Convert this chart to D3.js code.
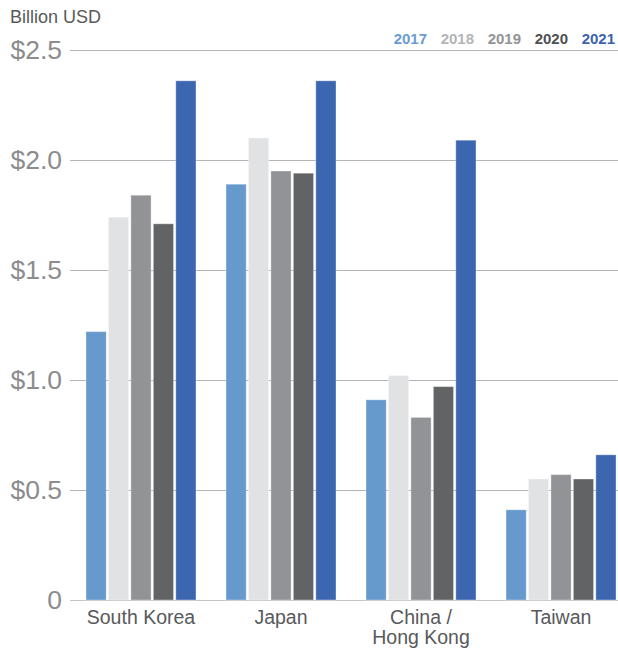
<!DOCTYPE html>
<html>
<head>
<meta charset="utf-8">
<script src="https://cdn.jsdelivr.net/npm/d3@7"></script>
<style>
	body { margin: 0; background: #fff; }
	text { font-family: "Liberation Sans", Arial, sans-serif; }
</style>
</head>
<body>
<svg id="chart" width="618" height="649"></svg>
<script>
// Data
const regions = ["South Korea", "Japan", "China / Hong Kong", "Taiwan"];
const years = ["2017", "2018", "2019", "2020", "2021"];
const v2017 = [1.22, 1.89, 0.91, 0.41];
const v2018 = [1.74, 2.10, 1.02, 0.55];
const v2019 = [1.84, 1.95, 0.83, 0.57];
const v2020 = [1.71, 1.94, 0.97, 0.55];
const v2021 = [2.36, 2.36, 2.09, 0.66];
const yTicks = [0, 0.5, 1.0, 1.5, 2.0, 2.5];

const series = [v2017, v2018, v2019, v2020, v2021];
const barColors = ["#6699cc", "#e1e2e4", "#929396", "#626365", "#3d66b0"];
const legendColors = ["#6a9bd2", "#b4b5b7", "#929396", "#4f5052", "#3d62b0"];

const svg = d3.select("#chart");
const margin = {top: 50, bottom: 49, left: 70};
const height = +svg.attr("height");

// y scale: 0 at 600, 2.5 at 50
const y = d3.scaleLinear().domain([0, 2.5]).range([height - margin.bottom, margin.top]);

// group scale
const x0 = d3.scaleBand().domain(regions)
	.range([71, 631])
	.paddingInner(0.2143)
	.paddingOuter(0.107);

const x1 = d3.scaleBand().domain(years)
	.range([0, x0.bandwidth()])
	.paddingInner(0.1);

// gridlines
svg.append("g")
	.selectAll("line")
	.data(yTicks)
	.enter()
	.append("line")
	.attr("x1", margin.left)
	.attr("x2", 618)
	.attr("y1", d => y(d) + 0.5)
	.attr("y2", d => y(d) + 0.5)
	.attr("stroke", d => d === 0 ? "#c4c4c6" : "#b4b4b6")
	.attr("stroke-width", 1.2);

// tick labels
svg.append("g")
	.selectAll("text")
	.data(yTicks)
	.enter()
	.append("text")
	.attr("x", 62)
	.attr("y", d => y(d) + 9)
	.attr("text-anchor", "end")
	.style("font-size", "26.5px")
	.style("fill", "#8c8c8e")
	.text(d => d === 0 ? "0" : "$" + d.toFixed(1));

// bars
const table = regions.map((r, i) => ({region: r, vals: years.map((yr, j) => ({year: yr, idx: j, v: series[j][i]}))}));

const groups = svg.append("g")
	.selectAll("g")
	.data(table)
	.enter()
	.append("g")
	.attr("transform", d => `translate(${x0(d.region)},0)`);

groups.selectAll("rect")
	.data(d => d.vals)
	.enter()
	.append("rect")
	.attr("x", d => x1(d.year))
	.attr("y", d => y(d.v))
	.attr("width", x1.bandwidth())
	.attr("height", d => y(0) - y(d.v))
	.attr("fill", d => barColors[d.idx])
	.attr("stroke", "#ffffff")
	.attr("stroke-opacity", 0.35)
	.attr("stroke-width", 1);

// category labels, split long one over two lines
const labelLines = [];
regions.forEach(r => {
	const parts = r === "China / Hong Kong" ? ["China /", "Hong Kong"] : [r];
	parts.forEach((p, k) => labelLines.push({region: r, text: p, line: k}));
});

svg.append("g")
	.selectAll("text")
	.data(labelLines)
	.enter()
	.append("text")
	.attr("text-anchor", "middle")
	.attr("x", d => x0(d.region) + x0.bandwidth() / 2)
	.attr("y", d => 624 + d.line * 20)
	.style("font-size", "19.5px")
	.style("fill", "#58595b")
	.text(d => d.text);

// unit label
svg.append("text")
	.attr("x", 10)
	.attr("y", 23)
	.style("font-size", "18px")
	.style("fill", "#58595b")
	.text("Billion USD");

// legend
svg.append("g")
	.selectAll("text")
	.data(years)
	.enter()
	.append("text")
	.attr("x", (d, i) => 427 + i * 47)
	.attr("y", 44)
	.attr("text-anchor", "end")
	.style("font-size", "15px")
	.style("font-weight", "bold")
	.style("fill", (d, i) => legendColors[i])
	.text(d => d);
</script>
</body>
</html>
